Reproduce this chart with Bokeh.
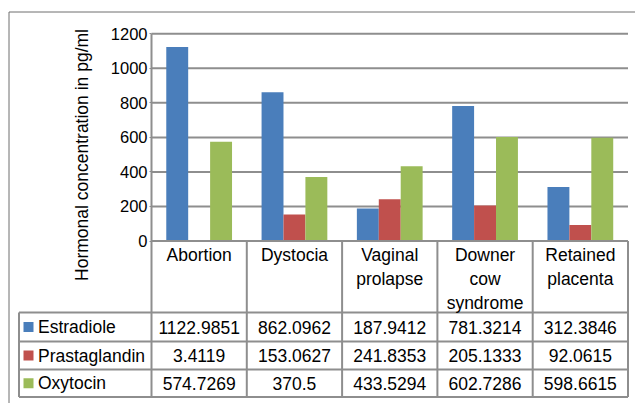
from bokeh.plotting import figure
from bokeh.models import Range1d, LinearAxis, FixedTicker, Label
from bokeh.core.properties import value
from bokeh.embed import file_html
from bokeh.resources import INLINE

# ---------------- data ----------------
categories = ["Abortion", "Dystocia", "Vaginal prolapse", "Downer cow syndrome", "Retained placenta"]
series_names = ["Estradiole", "Prastaglandin", "Oxytocin"]
estradiole = [1122.9851, 862.0962, 187.9412, 781.3214, 312.3846]
prastaglandin = [3.4119, 153.0627, 241.8353, 205.1333, 92.0615]
oxytocin = [574.7269, 370.5, 433.5294, 602.7286, 598.6615]
series_colors = ["#4A7EBB", "#C0504D", "#9BBB59"]
y_ticks = [0, 200, 400, 600, 800, 1000, 1200]
y_title = "Hormonal concentration in pg/ml"

series_values = [estradiole, prastaglandin, oxytocin]

# ---------------- layout (page pixels -> data) ----------------
PLOT_LEFT, PLOT_RIGHT = 151.0, 627.5
Y_ZERO, Y_TOP = 240.5, 33.3
PX_X = (PLOT_RIGHT - PLOT_LEFT) / len(categories)
PX_Y = (Y_ZERO - Y_TOP) / y_ticks[-1]


def xd(px):
    return (px - PLOT_LEFT) / PX_X


def yd(py):
    return (Y_ZERO - py) / PX_Y


ROW_LINES = [312.0, 341.0, 369.0, 396.5]
LEGEND_LEFT = 18.5
FONT = value("Liberation Sans")
TABLE_FS = "17.5px"
GRID_COLOR = "#8e8e8e"
TABLE_COLOR = "#8e8e8e"

W, H = 635, 403
p = figure(width=W, height=H,
           x_range=Range1d(xd(0), xd(W)), y_range=Range1d(yd(H), yd(0)),
           output_backend="svg", toolbar_location=None,
           x_axis_location=None, y_axis_location=None,
           min_border_left=0, min_border_right=0, min_border_top=0, min_border_bottom=0,
           outline_line_color=None, background_fill_color="white", border_fill_color="white")
p.grid.visible = False

n = len(categories)

# gridlines (from tick list)
p.segment(x0=[0] * (len(y_ticks) - 1), x1=[n] * (len(y_ticks) - 1),
          y0=y_ticks[1:], y1=y_ticks[1:], line_color=GRID_COLOR, line_width=2)

# bars
width = 0.23
offsets = [-0.23, 0.0, 0.23]
for vals, col, off in zip(series_values, series_colors, offsets):
    p.vbar(x=[i + 0.5 + off for i in range(n)], top=vals, bottom=0, width=width,
           fill_color=col, line_color=None)

# y axis at x = 0
ax = LinearAxis(fixed_location=0, ticker=FixedTicker(ticks=y_ticks))
ax.axis_line_color = None
ax.major_tick_line_color = GRID_COLOR
ax.major_tick_out = 2
ax.major_tick_in = 0
ax.minor_tick_line_color = None
ax.major_label_standoff = 2
ax.major_label_text_font = "Liberation Sans"
ax.major_label_text_font_size = "16.5px"
ax.major_label_text_color = "#000000"
p.add_layout(ax, "left")

# table / axis lines
y_bottom = yd(ROW_LINES[-1])
p.segment(x0=[0], x1=[0], y0=[y_ticks[-1]], y1=[y_bottom], line_color=TABLE_COLOR, line_width=2)
p.segment(x0=list(range(1, n + 1)), x1=list(range(1, n + 1)), y0=[0] * n, y1=[y_bottom] * n,
          line_color=TABLE_COLOR, line_width=2)
p.segment(x0=[xd(LEGEND_LEFT)], x1=[xd(LEGEND_LEFT)], y0=[yd(ROW_LINES[0])], y1=[y_bottom],
          line_color=TABLE_COLOR, line_width=2)
p.segment(x0=[0], x1=[n], y0=[0], y1=[0], line_color=TABLE_COLOR, line_width=2)
p.segment(x0=[xd(LEGEND_LEFT)] * len(ROW_LINES), x1=[n] * len(ROW_LINES),
          y0=[yd(r) for r in ROW_LINES], y1=[yd(r) for r in ROW_LINES],
          line_color=TABLE_COLOR, line_width=2)

# outer chart border (left and top)
p.segment(x0=[xd(8.5)], x1=[xd(8.5)], y0=[yd(11.5)], y1=[yd(H)], line_color="#6e6e6e", line_width=1)
p.segment(x0=[xd(8.5)], x1=[xd(W)], y0=[yd(11.5)], y1=[yd(11.5)], line_color="#6e6e6e", line_width=1)

# header labels
p.text(x=[i + 0.5 for i in range(n)], y=[yd(244.5)] * n,
       text=[c.replace(" ", "\n") for c in categories],
       text_font=FONT, text_font_size=TABLE_FS, text_align="center", text_baseline="top",
       text_line_height=1.2, text_color="#000000")

# rows
row_centers = [(ROW_LINES[k] + ROW_LINES[k + 1]) / 2 for k in range(3)]
xs, ys, ts = [], [], []
for k, vals in enumerate(series_values):
    for i, v in enumerate(vals):
        xs.append(i + 0.5)
        ys.append(yd(row_centers[k]))
        ts.append(str(v))
p.text(x=xs, y=ys, text=ts, text_font=FONT, text_font_size=TABLE_FS, text_align="center",
       text_baseline="middle", text_color="#000000")

# legend keys and names
p.rect(x=[xd(28)] * 3, y=[yd(c) for c in row_centers], width=10, height=10,
       width_units="screen", height_units="screen", fill_color=series_colors, line_color=None)
p.text(x=[xd(37.5)] * 3, y=[yd(c) for c in row_centers], text=series_names,
       text_font=FONT, text_font_size=TABLE_FS, text_align="left", text_baseline="middle",
       text_color="#000000")

# y axis title
p.add_layout(Label(x=xd(81), y=yd(154.5), text=y_title, angle=90, angle_units="deg",
                   text_font="Liberation Sans", text_font_size="17.5px",
                   text_align="center", text_baseline="middle", text_color="#000000"))

open("out.html", "w").write(file_html(p, INLINE))
